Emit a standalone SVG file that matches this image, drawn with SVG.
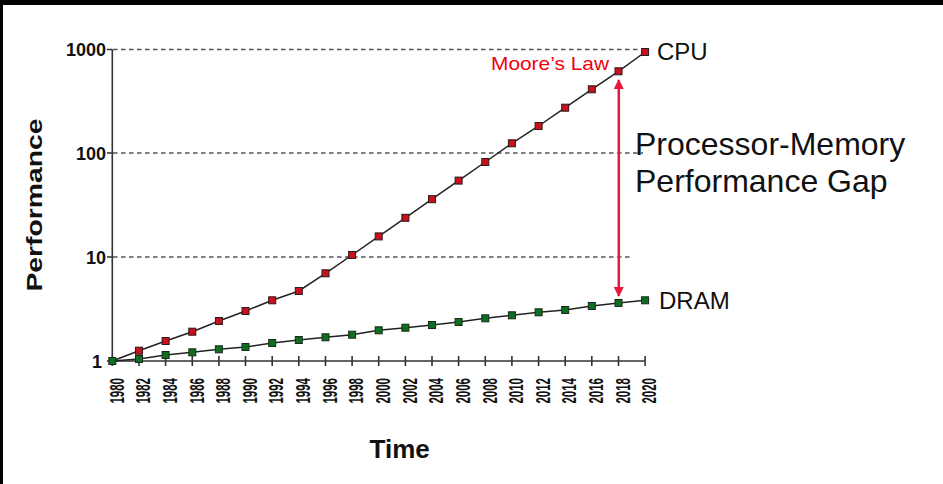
<svg xmlns="http://www.w3.org/2000/svg" width="943" height="484" viewBox="0 0 943 484">
<defs>
<style>
.axis{stroke:#333;stroke-width:1.6;fill:none}
.grid{stroke:#555;stroke-width:1.3;stroke-dasharray:4.5,3.5;fill:none}
.series{stroke:#222;stroke-width:1.5;fill:none}
.cpu rect{fill:#c8101f;stroke:#2a1a1a;stroke-width:1}
.dram rect{fill:#0d6e22;stroke:#1a2a1a;stroke-width:1}
.ylab{font-family:"Liberation Sans",Arial,sans-serif;font-weight:bold;font-size:18px;fill:#111;text-anchor:end}
.xlab{font-family:"Liberation Sans",Arial,sans-serif;font-weight:bold;font-size:21px;fill:#111;text-anchor:end}
.lbl{font-family:"Liberation Sans",Arial,sans-serif;fill:#111}
</style>
<marker id="ah" viewBox="0 0 10 10" refX="9" refY="5" markerWidth="4" markerHeight="4" orient="auto-start-reverse" markerUnits="strokeWidth">
<path d="M0,0 L10,5 L0,10 z" fill="#e8173c"/>
</marker>
</defs>
<rect x="0" y="0" width="943" height="484" fill="#fff"/>
<rect x="0" y="0" width="943" height="5" fill="#000"/>
<rect x="0" y="0" width="3" height="484" fill="#000"/>

<g id="grid">
<path class="grid" d="M113,49.5 H640"/>
<path class="grid" d="M113,153 H643"/>
<path class="grid" d="M113,257 H632"/>
</g>

<g id="axes">
<path class="axis" d="M112.3,49.5 V361 H645.1"/>
<path class="axis" d="M107,49.5 H112.3 M107,153 H112.3 M107,257 H112.3 M107,361 H112.3"/>
<path class="axis" d="M112.3,356 v10 M139,356 v10 M165.6,356 v10 M192.3,356 v10 M218.9,356 v10 M245.5,356 v10 M272.2,356 v10 M298.8,356 v10 M325.5,356 v10 M352.1,356 v10 M378.7,356 v10 M405.4,356 v10 M432,356 v10 M458.6,356 v10 M485.3,356 v10 M511.9,356 v10 M538.6,356 v10 M565.2,356 v10 M591.8,356 v10 M618.5,356 v10 M645.1,356 v10"/>
<text class="ylab" x="106" y="56">1000</text>
<text class="ylab" x="106" y="159.5">100</text>
<text class="ylab" x="106" y="263.5">10</text>
<text class="ylab" x="102" y="367.5">1</text>
<g class="xlab-group">
<text class="xlab" textLength="25.5" lengthAdjust="spacingAndGlyphs" transform="translate(123.5,378) rotate(-90)">1980</text>
<text class="xlab" textLength="25.5" lengthAdjust="spacingAndGlyphs" transform="translate(150.2,378) rotate(-90)">1982</text>
<text class="xlab" textLength="25.5" lengthAdjust="spacingAndGlyphs" transform="translate(176.8,378) rotate(-90)">1984</text>
<text class="xlab" textLength="25.5" lengthAdjust="spacingAndGlyphs" transform="translate(203.5,378) rotate(-90)">1986</text>
<text class="xlab" textLength="25.5" lengthAdjust="spacingAndGlyphs" transform="translate(230.1,378) rotate(-90)">1988</text>
<text class="xlab" textLength="25.5" lengthAdjust="spacingAndGlyphs" transform="translate(256.7,378) rotate(-90)">1990</text>
<text class="xlab" textLength="25.5" lengthAdjust="spacingAndGlyphs" transform="translate(283.4,378) rotate(-90)">1992</text>
<text class="xlab" textLength="25.5" lengthAdjust="spacingAndGlyphs" transform="translate(310,378) rotate(-90)">1994</text>
<text class="xlab" textLength="25.5" lengthAdjust="spacingAndGlyphs" transform="translate(336.7,378) rotate(-90)">1996</text>
<text class="xlab" textLength="25.5" lengthAdjust="spacingAndGlyphs" transform="translate(363.3,378) rotate(-90)">1998</text>
<text class="xlab" textLength="25.5" lengthAdjust="spacingAndGlyphs" transform="translate(389.9,378) rotate(-90)">2000</text>
<text class="xlab" textLength="25.5" lengthAdjust="spacingAndGlyphs" transform="translate(416.6,378) rotate(-90)">2002</text>
<text class="xlab" textLength="25.5" lengthAdjust="spacingAndGlyphs" transform="translate(443.2,378) rotate(-90)">2004</text>
<text class="xlab" textLength="25.5" lengthAdjust="spacingAndGlyphs" transform="translate(469.8,378) rotate(-90)">2006</text>
<text class="xlab" textLength="25.5" lengthAdjust="spacingAndGlyphs" transform="translate(496.5,378) rotate(-90)">2008</text>
<text class="xlab" textLength="25.5" lengthAdjust="spacingAndGlyphs" transform="translate(523.1,378) rotate(-90)">2010</text>
<text class="xlab" textLength="25.5" lengthAdjust="spacingAndGlyphs" transform="translate(549.8,378) rotate(-90)">2012</text>
<text class="xlab" textLength="25.5" lengthAdjust="spacingAndGlyphs" transform="translate(576.4,378) rotate(-90)">2014</text>
<text class="xlab" textLength="25.5" lengthAdjust="spacingAndGlyphs" transform="translate(603,378) rotate(-90)">2016</text>
<text class="xlab" textLength="25.5" lengthAdjust="spacingAndGlyphs" transform="translate(629.7,378) rotate(-90)">2018</text>
<text class="xlab" textLength="25.5" lengthAdjust="spacingAndGlyphs" transform="translate(656.3,378) rotate(-90)">2020</text>
</g>
<text class="lbl" font-weight="bold" font-size="22" text-anchor="middle" textLength="173" lengthAdjust="spacingAndGlyphs" transform="translate(41.5,205) rotate(-90)">Performance</text>
<text class="lbl" font-weight="bold" font-size="26" text-anchor="middle" x="399.7" y="458">Time</text>
</g>

<g id="connectors">
<polyline class="series" points="112.3,361 139,350.7 165.6,341 192.3,331.7 218.9,321 245.5,311 272.2,300.3 298.8,291 325.5,273.3 352.1,255 378.7,236.4 405.4,217.8 432,199.2 458.6,180.6 485.3,162 511.9,143.3 538.6,126 565.2,107.7 591.8,89.3 618.5,71.3 645.1,52"/>
<polyline class="series" points="112.3,361 139,359 165.6,355 192.3,352.3 218.9,349.3 245.5,347 272.2,343 298.8,340 325.5,337.3 352.1,334.7 378.7,330.3 405.4,327.7 432,325 458.6,322 485.3,318.3 511.9,315.3 538.6,312.3 565.2,310 591.8,306 618.5,303 645.1,300.3"/>
<line id="gap-arrow" x1="618.8" y1="80" x2="618.8" y2="296" stroke="#e8173c" stroke-width="2.5" marker-start="url(#ah)" marker-end="url(#ah)"/>
</g>

<g id="cpu" class="cpu">
<rect x="135.5" y="347.2" width="7" height="7"/>
<rect x="162.1" y="337.5" width="7" height="7"/>
<rect x="188.8" y="328.2" width="7" height="7"/>
<rect x="215.4" y="317.5" width="7" height="7"/>
<rect x="242" y="307.5" width="7" height="7"/>
<rect x="268.7" y="296.8" width="7" height="7"/>
<rect x="295.3" y="287.5" width="7" height="7"/>
<rect x="322" y="269.8" width="7" height="7"/>
<rect x="348.6" y="251.5" width="7" height="7"/>
<rect x="375.2" y="232.9" width="7" height="7"/>
<rect x="401.9" y="214.3" width="7" height="7"/>
<rect x="428.5" y="195.7" width="7" height="7"/>
<rect x="455.1" y="177.1" width="7" height="7"/>
<rect x="481.8" y="158.5" width="7" height="7"/>
<rect x="508.4" y="139.8" width="7" height="7"/>
<rect x="535.1" y="122.5" width="7" height="7"/>
<rect x="561.7" y="104.2" width="7" height="7"/>
<rect x="588.3" y="85.8" width="7" height="7"/>
<rect x="615" y="67.8" width="7" height="7"/>
<rect x="641.6" y="48.5" width="7" height="7"/>
<text class="lbl" x="657" y="60" font-size="24">CPU</text>
</g>

<g id="dram" class="dram">
<rect x="108.8" y="357.5" width="7" height="7"/>
<rect x="135.5" y="355.5" width="7" height="7"/>
<rect x="162.1" y="351.5" width="7" height="7"/>
<rect x="188.8" y="348.8" width="7" height="7"/>
<rect x="215.4" y="345.8" width="7" height="7"/>
<rect x="242" y="343.5" width="7" height="7"/>
<rect x="268.7" y="339.5" width="7" height="7"/>
<rect x="295.3" y="336.5" width="7" height="7"/>
<rect x="322" y="333.8" width="7" height="7"/>
<rect x="348.6" y="331.2" width="7" height="7"/>
<rect x="375.2" y="326.8" width="7" height="7"/>
<rect x="401.9" y="324.2" width="7" height="7"/>
<rect x="428.5" y="321.5" width="7" height="7"/>
<rect x="455.1" y="318.5" width="7" height="7"/>
<rect x="481.8" y="314.8" width="7" height="7"/>
<rect x="508.4" y="311.8" width="7" height="7"/>
<rect x="535.1" y="308.8" width="7" height="7"/>
<rect x="561.7" y="306.5" width="7" height="7"/>
<rect x="588.3" y="302.5" width="7" height="7"/>
<rect x="615" y="299.5" width="7" height="7"/>
<rect x="641.6" y="296.8" width="7" height="7"/>
<text class="lbl" x="659" y="309.3" font-size="24">DRAM</text>
</g>

<g id="moores-law">
<text x="491" y="70" font-family="'Liberation Sans',Arial,sans-serif" font-size="19" fill="#f00010" textLength="118" lengthAdjust="spacingAndGlyphs">Moore’s Law</text>
</g>

<g id="gap-label">
<text class="lbl" font-size="32" x="635" y="155">Processor-Memory</text>
<text class="lbl" font-size="32" x="635" y="191.7">Performance Gap</text>
</g>
</svg>
